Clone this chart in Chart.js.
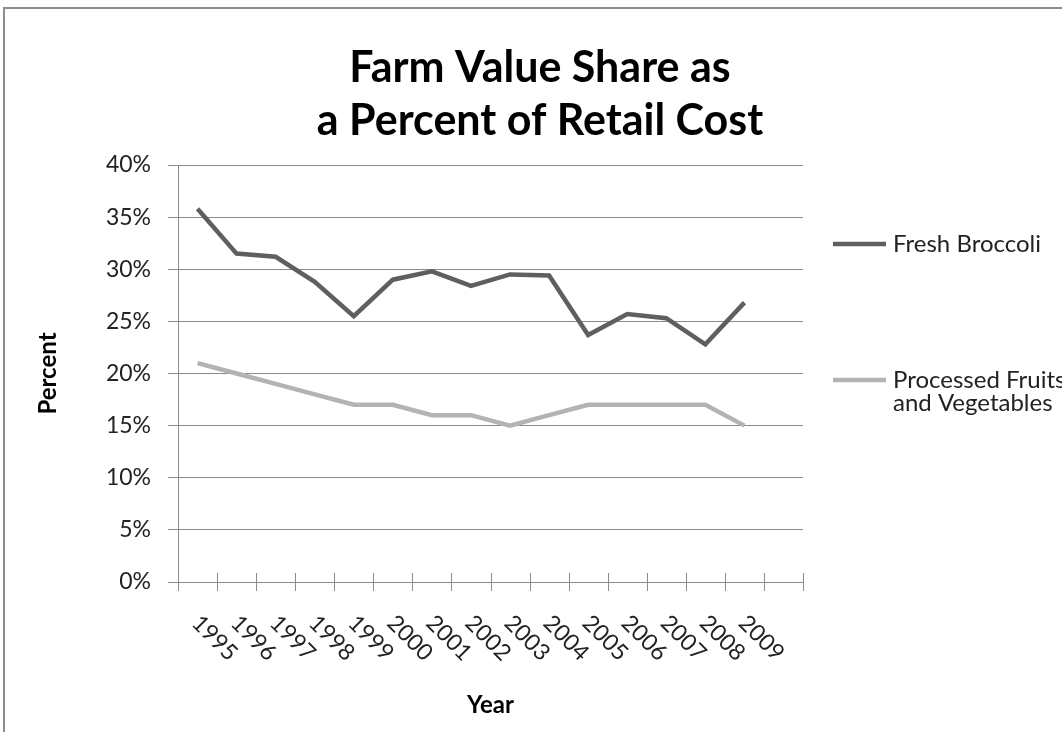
<!DOCTYPE html>
<html>
<head>
<meta charset="utf-8">
<script src="https://cdn.jsdelivr.net/npm/chart.js@4.4.1/dist/chart.umd.min.js"></script>
<style>
  html, body { margin: 0; padding: 0; background: #fff; }
  #wrap { width: 1062px; height: 732px; }
</style>
</head>
<body>
<div id="wrap"><canvas id="farmChart"></canvas></div>
<script>
// years on the category axis (Excel left one empty slot after 2009)
var years = ['1995','1996','1997','1998','1999','2000','2001','2002','2003','2004','2005','2006','2007','2008','2009',''];
var broccoli = [35.8, 31.5, 31.2, 28.8, 25.5, 29.0, 29.8, 28.4, 29.5, 29.4, 23.7, 25.7, 25.3, 22.8, 26.8];
var processed = [21, 20, 19, 18, 17, 17, 16, 16, 15, 16, 17, 17, 17, 17, 15];
var yTicks = [0, 5, 10, 15, 20, 25, 30, 35, 40];
var titleLines = ['Farm Value Share as', 'a Percent of Retail Cost'];
var seriesNames = [['Fresh Broccoli'], ['Processed Fruits', 'and Vegetables']];

var FONT = 'Lato, "Open Sans", sans-serif';
var darkLine = '#5f5f5f';
var lightLine = '#b3b3b3';
var gridColor = '#8a8a8a';
var axisSize = 23;
var legendSize = 24;
var titleSize = 43;
var axisTitleSize = 24;

// title, rotated year labels, cross ticks, legend and outer frame
var extras = {
  id: 'extras',
  afterDraw: function(chart) {
    var ctx = chart.ctx;
    var area = chart.chartArea;
    var x = chart.scales.x;
    ctx.save();

    // frame
    ctx.strokeStyle = '#8c8c8c';
    ctx.lineWidth = 2;
    ctx.beginPath();
    ctx.moveTo(4, 732);
    ctx.lineTo(4, 8);
    ctx.lineTo(1062, 8);
    ctx.stroke();

    // title
    ctx.fillStyle = '#000';
    ctx.font = 'bold ' + titleSize + 'px ' + FONT;
    ctx.textAlign = 'center';
    ctx.textBaseline = 'alphabetic';
    titleLines.forEach(function(t, i) {
      ctx.fillText(t, 540, 82 + i * 53);
    });

    // cross tick marks on the category axis
    var step = (area.right - area.left) / years.length;
    ctx.strokeStyle = gridColor;
    ctx.lineWidth = 1;
    ctx.beginPath();
    for (var i = 0; i <= years.length; i++) {
      var px = Math.round(area.left + i * step) + 0.5;
      ctx.moveTo(px, area.bottom - 9);
      ctx.lineTo(px, area.bottom + 9);
    }
    ctx.stroke();

    // year labels, slanted down to the right
    ctx.fillStyle = '#222';
    ctx.font = axisSize + 'px ' + FONT;
    ctx.textAlign = 'center';
    ctx.textBaseline = 'middle';
    years.forEach(function(label, i) {
      if (!label) return;
      var px = x.getPixelForValue(i);
      ctx.save();
      ctx.translate(px + 17, area.bottom + 56);
      ctx.rotate(Math.PI / 4);
      ctx.fillText(label, 0, 0);
      ctx.restore();
    });

    // legend
    var rows = [244, 380];
    chart.data.datasets.forEach(function(ds, i) {
      var ly = rows[i];
      ctx.strokeStyle = ds.borderColor;
      ctx.lineWidth = 4.5;
      ctx.beginPath();
      ctx.moveTo(833, ly);
      ctx.lineTo(886, ly);
      ctx.stroke();
      ctx.fillStyle = '#222';
      ctx.font = legendSize + 'px ' + FONT;
      ctx.textAlign = 'left';
      ctx.textBaseline = 'middle';
      seriesNames[i].forEach(function(t, j) {
        ctx.fillText(t, 893, ly + j * 23);
      });
    });

    ctx.restore();
  }
};

new Chart(document.getElementById('farmChart'), {
  type: 'line',
  data: {
    labels: years,
    datasets: [{
      label: 'Fresh Broccoli',
      data: broccoli,
      borderColor: darkLine,
      borderWidth: 4.5,
      pointRadius: 0,
      tension: 0
    }, {
      label: 'Processed Fruits and Vegetables',
      data: processed,
      borderColor: lightLine,
      borderWidth: 4.5,
      pointRadius: 0,
      tension: 0
    }]
  },
  options: {
    responsive: true,
    maintainAspectRatio: false,
    animation: false,
    layout: { padding: { left: 0, right: 259, top: 165, bottom: 0 } },
    plugins: {
      legend: { display: false },
      title: { display: false },
      tooltip: { enabled: false }
    },
    scales: {
      x: {
        offset: true,
        grid: { display: false },
        border: { display: true, color: gridColor, width: 1 },
        ticks: { display: false },
        title: {
          display: true,
          text: 'Year',
          color: '#000',
          font: { family: FONT, size: axisTitleSize, weight: 'bold', lineHeight: 1 },
          padding: { top: 0, bottom: 732 - 705 - axisTitleSize / 2 }
        },
        afterFit: function(scale) { scale.height = 150; }
      },
      y: {
        min: 0,
        max: 40,
        afterBuildTicks: function(scale) {
          scale.ticks = yTicks.map(function(v) { return { value: v }; });
        },
        grid: { color: gridColor, lineWidth: 1, tickLength: 10, tickColor: gridColor },
        border: { display: true, color: gridColor, width: 1 },
        ticks: {
          color: '#222',
          padding: 17,
          font: { family: FONT, size: axisSize },
          callback: function(v) { return v + '%'; }
        },
        title: {
          display: true,
          text: 'Percent',
          color: '#000',
          font: { family: FONT, size: axisTitleSize, weight: 'bold', lineHeight: 1 },
          padding: { top: 48 - axisTitleSize / 2, bottom: 0 }
        },
        afterFit: function(scale) { scale.width = 178; }
      }
    }
  },
  plugins: [extras]
});
</script>
</body>
</html>
